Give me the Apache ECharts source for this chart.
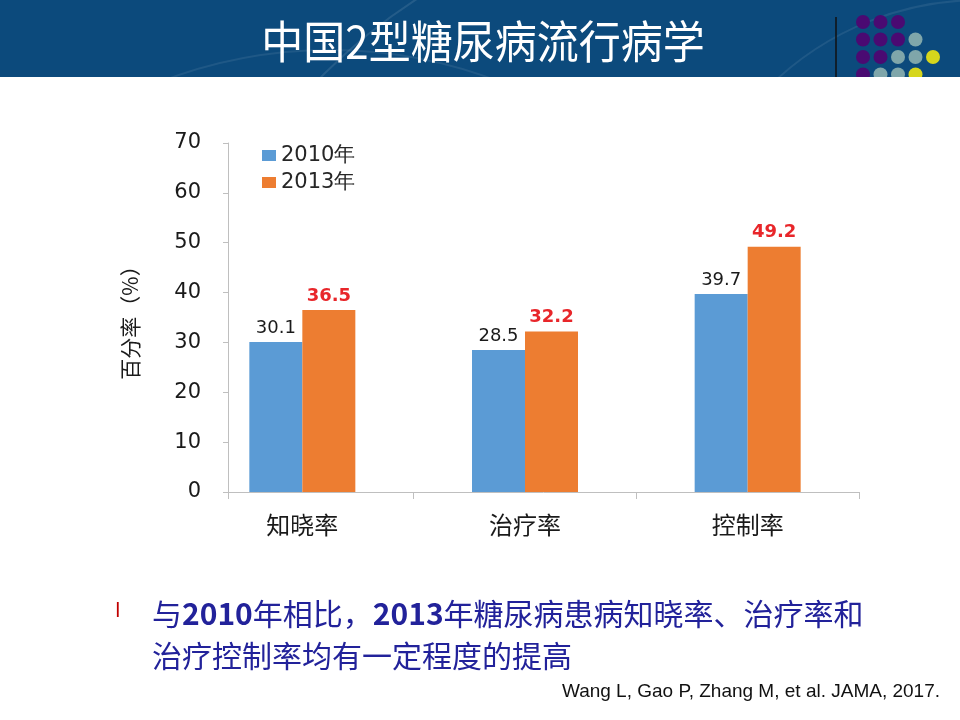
<!DOCTYPE html>
<html>
<head>
<meta charset="utf-8">
<script src="https://cdn.jsdelivr.net/npm/echarts@6/dist/echarts.min.js"></script>
<style>
  html, body { margin: 0; padding: 0; background: #fff; }
  #main { width: 960px; height: 720px; }
</style>
</head>
<body>
<div id="main"></div>
<script>
// 数据
var categories = ['知晓率', '治疗率', '控制率'];
var seriesNames = ['2010年', '2013年'];
var values2010 = [30.1, 28.5, 39.7];
var values2013 = [36.5, 32.2, 49.2];
var yTicks = [0, 10, 20, 30, 40, 50, 60, 70];

var titleText = '中国2型糖尿病流行病学';
var citeText = 'Wang L, Gao P, Zhang M, et al. JAMA, 2017.';

var chart = echarts.init(document.getElementById('main'));

var axisGray = '#bfbfbf';
var cjk = '"Noto Sans CJK SC", sans-serif';
var latin = '"DejaVu Sans", sans-serif';
var navy = '#22229a';

// 右上角圆点
var dotRows = [
  ['p', 'p', 'p'],
  ['p', 'p', 'p', 't'],
  ['p', 'p', 't', 't', 'y'],
  ['p', 't', 't', 'y']
];
var dotColors = { p: '#4a0a72', t: '#7fa6aa', y: '#d6d61c' };
var dots = [];
dotRows.forEach(function (row, r) {
  row.forEach(function (c, i) {
    dots.push({
      type: 'circle', z: -3,
      shape: { cx: 863 + i * 17.5, cy: 22 + r * 17.5, r: 7 },
      style: { fill: dotColors[c] }
    });
  });
});

var option = {
  backgroundColor: '#ffffff',
  animation: false,
  legend: {
    orient: 'vertical',
    left: 257,
    top: 140,
    itemWidth: 14,
    itemHeight: 11,
    itemGap: 6,
    icon: 'rect',
    data: seriesNames,
    textStyle: { fontSize: 21, color: '#262626', fontFamily: latin }
  },
  grid: [
    { left: 191, right: 101, top: 143, bottom: 228 },
    { left: 228, right: 101, top: 143, bottom: 228 }
  ],
  xAxis: [
    {
      gridIndex: 0,
      type: 'category',
      data: categories,
      axisLine: { show: false },
      axisTick: {
        show: true, length: 7,
        interval: function (idx) { return idx > 0; },
        lineStyle: { color: axisGray }
      },
      axisLabel: { margin: 21, fontSize: 24, color: '#1a1a1a', fontFamily: cjk }
    },
    {
      gridIndex: 1,
      type: 'value',
      min: 0, max: 1, interval: 1,
      axisLine: { show: true, lineStyle: { color: axisGray } },
      axisTick: { show: true, length: 7, lineStyle: { color: axisGray } },
      axisLabel: { show: false },
      splitLine: { show: false }
    }
  ],
  yAxis: [
    { gridIndex: 0, type: 'value', min: 0, max: 70, interval: 10, show: false },
    {
      gridIndex: 1,
      type: 'value',
      min: yTicks[0], max: yTicks[yTicks.length - 1], interval: 10,
      name: '百分率（%）',
      nameLocation: 'middle',
      nameRotate: 90,
      nameGap: 87,
      nameTextStyle: { fontSize: 21, color: '#1a1a1a', fontFamily: cjk },
      axisLine: { show: true, lineStyle: { color: axisGray } },
      axisTick: { show: true, length: 5, lineStyle: { color: axisGray } },
      axisLabel: { margin: 27, fontSize: 21, color: '#1a1a1a', fontFamily: latin },
      splitLine: { show: false }
    }
  ],
  series: [
    {
      name: seriesNames[0],
      type: 'bar',
      xAxisIndex: 0, yAxisIndex: 0,
      data: values2010,
      barWidth: 53,
      barGap: '0%',
      itemStyle: { color: '#5b9bd5' },
      label: {
        show: true, position: 'top', distance: 5,
        fontSize: 18, color: '#1a1a1a', fontFamily: latin
      }
    },
    {
      name: seriesNames[1],
      type: 'bar',
      xAxisIndex: 0, yAxisIndex: 0,
      data: values2013,
      barWidth: 53,
      barGap: '0%',
      itemStyle: { color: '#ed7d31' },
      label: {
        show: true, position: 'top', distance: 5,
        fontSize: 18, fontWeight: 'bold', color: '#e8262a', fontFamily: latin
      }
    }
  ],
  graphic: [
    // 顶部蓝色标题栏
    { type: 'rect', z: -5, shape: { x: 0, y: 0, width: 960, height: 77 }, style: { fill: '#0c4a7c' } },
    { type: 'circle', z: -4, shape: { cx: 720, cy: 470, r: 560 }, style: { fill: 'none', stroke: 'rgba(255,255,255,0.10)', lineWidth: 2 } },
    { type: 'circle', z: -4, shape: { cx: 330, cy: 520, r: 470 }, style: { fill: 'none', stroke: 'rgba(255,255,255,0.08)', lineWidth: 2 } },
    { type: 'circle', z: -4, shape: { cx: 980, cy: 300, r: 300 }, style: { fill: 'none', stroke: 'rgba(255,255,255,0.08)', lineWidth: 2 } }
  ].concat(dots).concat([
    { type: 'rect', z: -2, shape: { x: 0, y: 77, width: 960, height: 643 }, style: { fill: '#ffffff' } },
    { type: 'line', z: 5, shape: { x1: 836, y1: 17, x2: 836, y2: 77 }, style: { stroke: '#111', lineWidth: 1.5 } },
    {
      type: 'text', z: 10, x: 483, y: 42, scaleY: 1.08,
      style: {
        text: titleText, fill: '#ffffff', fontSize: 42, fontFamily: cjk,
        align: 'center', verticalAlign: 'middle'
      }
    },
    // 要点
    {
      type: 'text', z: 10, x: 115, y: 612,
      style: { text: 'l', fill: '#c00000', fontSize: 20, fontFamily: latin, verticalAlign: 'middle' }
    },
    {
      type: 'text', z: 10, x: 152, y: 614,
      style: {
        text: '{a|与}{b|2010}{a|年相比，}{b|2013}{a|年糖尿病患病知晓率、治疗率和}',
        verticalAlign: 'middle',
        rich: {
          a: { fontSize: 30, fill: navy, fontFamily: cjk },
          b: { fontSize: 30, fill: navy, fontFamily: cjk, fontWeight: 'bold' }
        }
      }
    },
    {
      type: 'text', z: 10, x: 152, y: 656,
      style: {
        text: '治疗控制率均有一定程度的提高', fill: navy, fontSize: 30,
        fontFamily: cjk, verticalAlign: 'middle'
      }
    },
    {
      type: 'text', z: 10, x: 940, y: 692,
      style: {
        text: citeText, fill: '#111', fontSize: 19,
        fontFamily: '"Liberation Sans", Arial, sans-serif',
        align: 'right', verticalAlign: 'middle'
      }
    }
  ])
};

chart.setOption(option);
</script>
</body>
</html>
